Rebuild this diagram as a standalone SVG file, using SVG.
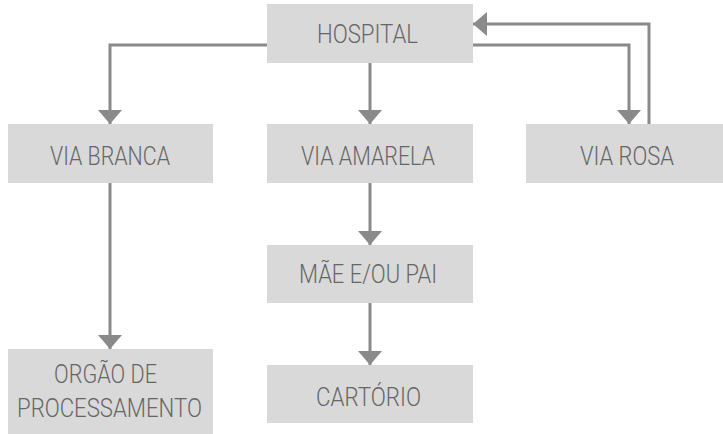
<svg xmlns="http://www.w3.org/2000/svg" width="723" height="434" viewBox="0 0 723 434">
<style>
.box{fill:#d9d9d9;}
.lbl{font-family:Roboto,"Liberation Sans",sans-serif;font-weight:300;font-size:25px;fill:#666666;}
.edge{fill:none;stroke:#8a8a8a;stroke-width:3;}
</style>
<defs>
<marker id="arr" viewBox="0 0 14 24" refX="14" refY="12" markerWidth="14" markerHeight="24" markerUnits="userSpaceOnUse" orient="auto">
<path d="M0,0 L14,12 L0,24 Z" fill="#8a8a8a"/>
</marker>
</defs>
<rect width="723" height="434" fill="#ffffff"/>
<g id="connectors">
<path class="edge" d="M267,45 H110 V124" marker-end="url(#arr)"/>
<path class="edge" d="M370,63 V124" marker-end="url(#arr)"/>
<path class="edge" d="M473,45 H629 V124" marker-end="url(#arr)"/>
<path class="edge" d="M649,124 V24 H473" marker-end="url(#arr)"/>
<path class="edge" d="M110,183 V349" marker-end="url(#arr)"/>
<path class="edge" d="M370,183 V245" marker-end="url(#arr)"/>
<path class="edge" d="M370,303 V365" marker-end="url(#arr)"/>
</g>
<g id="hospital">
<rect class="box" x="267" y="4" width="206" height="59"/>
<text class="lbl" x="317" y="43" textLength="101" lengthAdjust="spacingAndGlyphs">HOSPITAL</text>
</g>
<g id="via-branca">
<rect class="box" x="8" y="124" width="205" height="59"/>
<text class="lbl" x="50" y="165" textLength="120" lengthAdjust="spacingAndGlyphs">VIA BRANCA</text>
</g>
<g id="via-amarela">
<rect class="box" x="267" y="124" width="206" height="59"/>
<text class="lbl" x="301" y="165" textLength="134" lengthAdjust="spacingAndGlyphs">VIA AMARELA</text>
</g>
<g id="via-rosa">
<rect class="box" x="526" y="124" width="197" height="59"/>
<text class="lbl" x="580" y="165" textLength="94" lengthAdjust="spacingAndGlyphs">VIA ROSA</text>
</g>
<g id="mae-pai">
<rect class="box" x="267" y="245" width="206" height="58"/>
<text class="lbl" x="299" y="283" textLength="138" lengthAdjust="spacingAndGlyphs">MÃE E/OU PAI</text>
</g>
<g id="orgao">
<rect class="box" x="8" y="349" width="205" height="85"/>
<text class="lbl" x="54" y="383" textLength="103" lengthAdjust="spacingAndGlyphs">ORGÃO DE</text>
<text class="lbl" x="17" y="417" textLength="185" lengthAdjust="spacingAndGlyphs">PROCESSAMENTO</text>
</g>
<g id="cartorio">
<rect class="box" x="267" y="365" width="206" height="58"/>
<text class="lbl" x="316" y="406" textLength="105" lengthAdjust="spacingAndGlyphs">CARTÓRIO</text>
</g>
</svg>
